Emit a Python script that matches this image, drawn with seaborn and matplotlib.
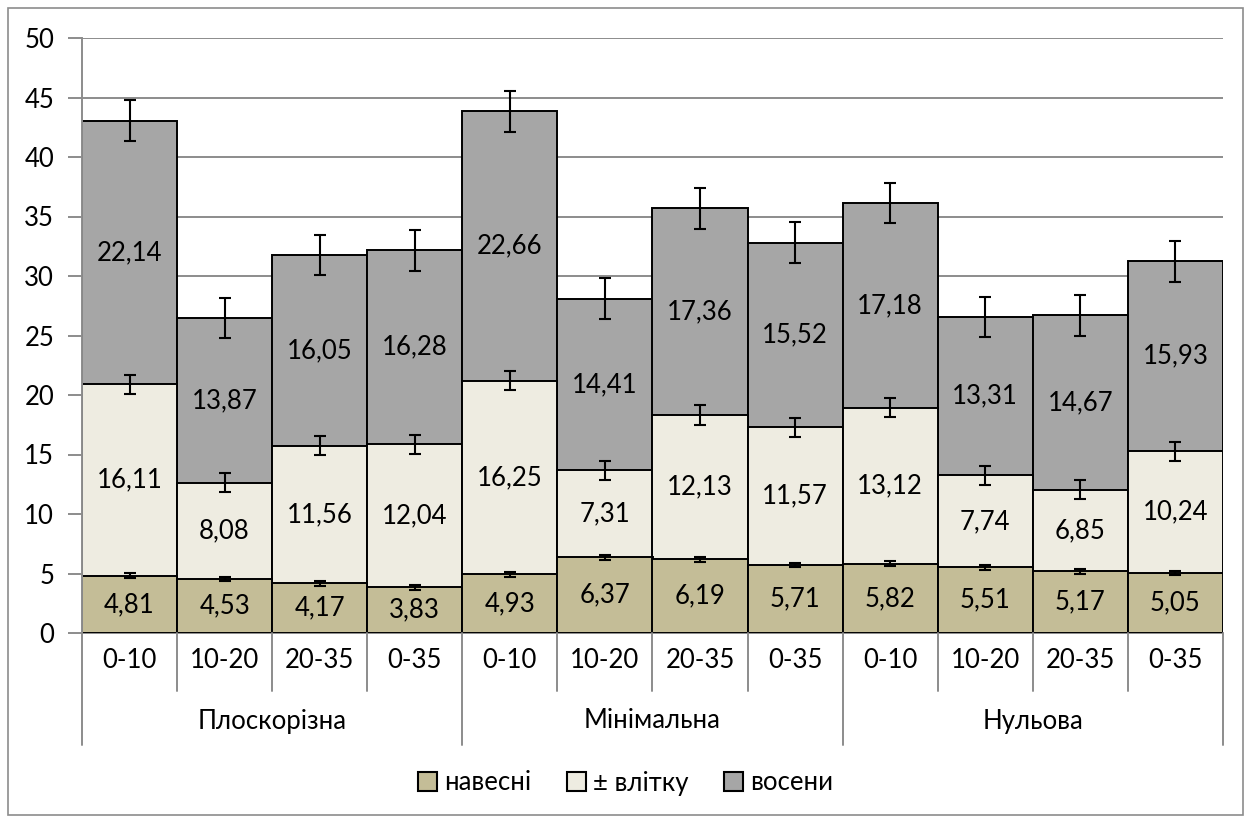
import matplotlib
matplotlib.use("Agg")
import matplotlib.pyplot as plt
from matplotlib.patches import Patch
from matplotlib.lines import Line2D
import numpy as np
import pandas as pd
import seaborn as sns

# Tillage systems and soil layers (cm)
tillage = ["Плоскорізна", "Мінімальна", "Нульова"]
depths = ["0-10", "10-20", "20-35", "0-35"]

# Seasonal values per bar (3 tillage systems x 4 layers)
spring = [4.81, 4.53, 4.17, 3.83, 4.93, 6.37, 6.19, 5.71, 5.82, 5.51, 5.17, 5.05]
summer = [16.11, 8.08, 11.56, 12.04, 16.25, 7.31, 12.13, 11.57, 13.12, 7.74, 6.85, 10.24]
autumn = [22.14, 13.87, 16.05, 16.28, 22.66, 14.41, 17.36, 15.52, 17.18, 13.31, 14.67, 15.93]

# Error bar half-widths
err_spring = [0.2] * 12
err_summer = [0.8] * 12
err_autumn = [1.7] * 12

series_names = ["навесні", "± влітку", "восени"]
colors = ["#C4BD97", "#EEECE1", "#A6A6A6"]

sns.set_theme(style="white")
plt.rcParams["font.family"] = ["Lato", "Open Sans", "DejaVu Sans"]
plt.rcParams["text.color"] = "black"
FS = 18.5

bars = [f"{g} {d}" for g in tillage for d in depths]
df = pd.DataFrame({"bar": bars, "spring": spring, "summer": summer, "autumn": autumn})
df["c1"] = df["spring"]
df["c2"] = df["c1"] + df["summer"]
df["c3"] = df["c2"] + df["autumn"]

fig = plt.figure(figsize=(12.51, 8.23), dpi=100)
ax = fig.add_axes([82 / 1251, 1 - 633 / 823, (1223 - 82) / 1251, (633 - 38) / 823])

grid_col = "#8C8C8C"
ax.set_ylim(0, 50)
ax.set_yticks(np.arange(0, 51, 5))
ax.yaxis.grid(True, color=grid_col, linewidth=1.4)
ax.set_axisbelow(True)

# Stacked bars: draw cumulative totals from tallest down
for col, color in zip(["c3", "c2", "c1"], colors[::-1]):
    sns.barplot(data=df, x="bar", y=col, order=bars, color=color, width=1.0,
                edgecolor="black", linewidth=1.4, saturation=1, ax=ax)

x = np.arange(len(bars))
for col, err in zip(["c1", "c2", "c3"], [err_spring, err_summer, err_autumn]):
    ax.errorbar(x, df[col], yerr=err, fmt="none", ecolor="black",
                elinewidth=1.5, capsize=4.5, capthick=1.5, zorder=5)

# Value labels centred in each segment
fmt = lambda v: f"{v:.2f}".replace(".", ",")
for i in range(len(bars)):
    ax.text(i, df["c1"][i] / 2, fmt(spring[i]), ha="center", va="center", fontsize=FS)
    ax.text(i, (df["c1"][i] + df["c2"][i]) / 2, fmt(summer[i]), ha="center", va="center", fontsize=FS)
    ax.text(i, (df["c2"][i] + df["c3"][i]) / 2, fmt(autumn[i]), ha="center", va="center", fontsize=FS)

ax.set_xlim(-0.5, len(bars) - 0.5)
ax.set_xlabel("")
ax.set_ylabel("")
ax.set_xticks([])
for s in ["top", "right", "bottom"]:
    ax.spines[s].set_visible(False)
ax.spines["left"].set_color(grid_col)
ax.spines["left"].set_linewidth(1.4)
ax.tick_params(axis="y", length=10, width=1.4, color=grid_col, labelsize=FS, pad=10,
               left=True, labelcolor="black")

# Category table below the axis
trans = ax.get_xaxis_transform()
px = 1 / (633 - 38)
for i, d in enumerate(depths * len(tillage)):
    ax.text(i, -27 * px, d, transform=trans, ha="center", va="center", fontsize=FS)
for j, g in enumerate(tillage):
    ax.text(j * 4 + 1.5, -88 * px, g, transform=trans, ha="center", va="center", fontsize=FS)
for k in range(len(bars) + 1):
    xpos = k - 0.5
    low = -112 * px if k % 4 == 0 else -58 * px
    ax.add_line(Line2D([xpos, xpos], [0, low], transform=trans, color=grid_col,
                       linewidth=1.4, clip_on=False))
ax.add_line(Line2D([-0.5, len(bars) - 0.5], [0, 0], transform=trans, color=grid_col,
                   linewidth=1.4, clip_on=False, zorder=0.5))

# Legend
handles = [Patch(facecolor=c, edgecolor="black", linewidth=1.5) for c in colors]
fig.legend(handles, series_names, loc="center", bbox_to_anchor=(0.5, 1 - 783 / 823),
           ncol=3, frameon=False, fontsize=FS, handlelength=0.75, handleheight=0.75,
           handletextpad=0.25, columnspacing=1.4)

# Outer chart border
fig.add_artist(plt.Rectangle((8 / 1251, 8 / 823), 1 - 16 / 1251, 1 - 16 / 823,
                             transform=fig.transFigure, fill=False,
                             edgecolor=grid_col, linewidth=1.2))

fig.savefig("out.png", dpi=100)
